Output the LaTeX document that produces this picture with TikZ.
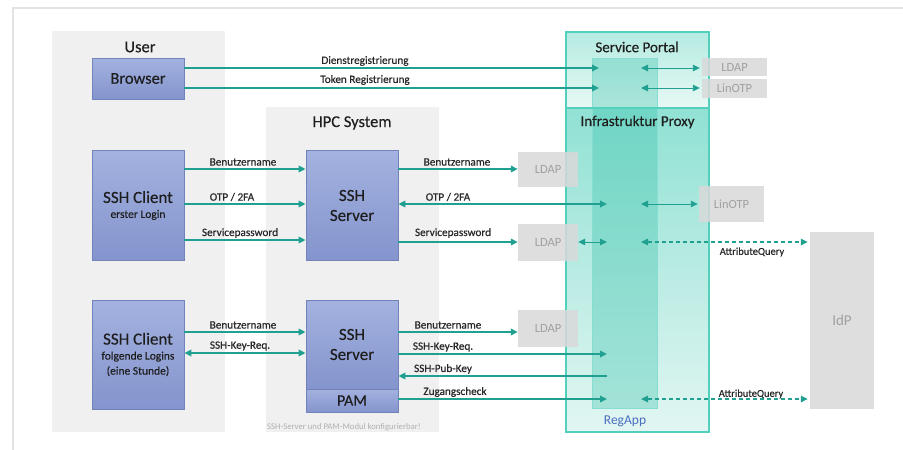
\documentclass[tikz,border=0pt]{standalone}
\usepackage{fontspec}
\setmainfont{Carlito}
\newfontface\heavyface{Carlito}[FakeBold=0.5]
\newfontface\semiface{Carlito}[FakeBold=0.3]
\usetikzlibrary{arrows.meta}

\definecolor{framegray}{HTML}{E3E3E3}
\definecolor{panelgray}{HTML}{F0F0F0}
\definecolor{boxtop}{HTML}{A3B2DF}
\definecolor{boxbot}{HTML}{8494CD}
\definecolor{boxedge}{HTML}{7282BA}
\definecolor{darktext}{HTML}{1E1E1E}
\definecolor{labtext}{HTML}{282828}
\definecolor{flowteal}{HTML}{20A090}
\definecolor{grayfill}{HTML}{D9D9D9}
\definecolor{graytext}{HTML}{A0A0A0}
\definecolor{tealedge}{HTML}{52CFBD}
\definecolor{portaltop}{HTML}{B4EBE1}
\definecolor{portalbot}{HTML}{E8F8F5}
\definecolor{proxytop}{HTML}{90E1D4}
\definecolor{proxybot}{HTML}{E2F6F2}
\definecolor{columnteal}{HTML}{30C0A8}
\definecolor{regblue}{HTML}{4A6FC0}
\definecolor{notegray}{HTML}{B0B0B0}

\newcommand{\fsz}[2]{\fontsize{#1}{#2}\selectfont}

\tikzset{
  panel/.style={fill=panelgray, draw=none},
  ptitle/.style={font=\semiface\fsz{16.5}{19}, text=darktext, inner sep=0pt},
  bluebox/.style={draw=boxedge, line width=0.8pt, top color=boxtop, bottom color=boxbot,
    minimum width=92pt, inner sep=0pt, text=darktext, align=center},
  graybox/.style={fill=grayfill, fill opacity=0.85, text opacity=1, text=graytext,
    inner sep=0pt, font=\fsz{12.5}{15}},
  tip/.tip={Triangle[length=7pt,width=6.5pt]},
  flow/.style={draw=flowteal, line width=1.8pt, -tip},
  flowback/.style={draw=flowteal, line width=1.8pt, tip-},
  both/.style={draw=flowteal, line width=1.8pt, tip-tip},
  thinflow/.style={line width=0.9pt},
  query/.style={dash pattern=on 4pt off 3pt, line width=1.5pt},
  lab/.style={font=\heavyface\fsz{11.2}{13}, text=labtext, inner sep=0pt},
}

\begin{document}
\begin{tikzpicture}[x=1pt,y=-1pt]
\useasboundingbox (0,0) rectangle (903,450);
\fill[white] (0,0) rectangle (903,450);

% outer frame
\draw[framegray, line width=2pt] (13,450) -- (13,8) -- (903,8);

% grey panels
\fill[panel] (52,31) rectangle (225,432);
\fill[panel] (266,107) rectangle (439,432);
\node[ptitle] (usertitle) at (140,47) {User};
\node[ptitle] (hpctitle) at (352,123) {HPC System};
\node[font=\fsz{8.7}{10}, text=notegray, anchor=west, inner sep=0pt] (note) at (267,427)
  {SSH-Server und PAM-Modul konfigurierbar!};

% service portal and infrastructure proxy
\path[top color=portaltop, bottom color=portalbot] (566,32) rectangle (709,108);
\path[top color=proxytop, bottom color=proxybot] (566,108) rectangle (709,432);
\fill[columnteal, fill opacity=0.33] (592,58) rectangle (657,408);
\draw[tealedge!70, line width=0.6pt] (592,58) rectangle (657,408);
\node[draw=tealedge, line width=1.2pt, minimum width=143pt, minimum height=76pt,
  inner sep=0pt] (portal) at (637.5,70) {};
\node[draw=tealedge, line width=1.2pt, minimum width=143pt, minimum height=324pt,
  inner sep=0pt] (proxy) at (637.5,270) {};
\node[font=\semiface\fsz{15}{18}, text=darktext, inner sep=0pt] (portaltitle) at (637,47) {Service Portal};
\node[font=\semiface\fsz{15}{18}, text=darktext, inner sep=0pt] (proxytitle) at (637.5,122) {Infrastruktur Proxy};
\node[font=\fsz{13.5}{16}, text=regblue, inner sep=0pt] (regapp) at (625,421) {RegApp};

% grey back-end boxes
\node[graybox, minimum width=65pt, minimum height=18pt] (ldapP) at (734.5,67) {LDAP};
\node[graybox, minimum width=65pt, minimum height=19pt] (linotpP) at (734.5,88.5) {LinOTP};
\node[graybox, minimum width=60pt, minimum height=35pt] (ldapA) at (548,169.5) {LDAP};
\node[graybox, minimum width=65pt, minimum height=36pt] (linotpB) at (731.5,204) {LinOTP};
\node[graybox, minimum width=60pt, minimum height=37pt] (ldapC) at (548,242.5) {LDAP};
\node[graybox, minimum width=60pt, minimum height=37pt] (ldapD) at (548,328.5) {LDAP};
\node[graybox, minimum width=64pt, minimum height=177pt, font=\fsz{15}{18}] (idp) at (842,320.5) {IdP};

% client and server boxes
\node[bluebox, minimum height=41pt, font=\semiface\fsz{16.5}{19}] (browser) at (138,78.5) {Browser};
\node[bluebox, minimum height=110pt, font=\semiface\fsz{12}{15}] (client1) at (138,205.5)
  {{\fsz{17}{20}SSH Client}\\{\fsz{11.5}{14}erster Login}};
\node[bluebox, minimum height=110pt, font=\semiface\fsz{17}{20}] (server1) at (352,205.5) {SSH\\Server};
\node[bluebox, minimum height=109pt, font=\semiface\fsz{12}{15}] (client2) at (138,354.5)
  {{\fsz{17}{20}SSH Client}\\{\fsz{11.5}{14}folgende Logins}\\{\fsz{11.5}{14}(eine Stunde)}};
\node[bluebox, minimum height=89pt, font=\semiface\fsz{17}{20}] (server2) at (352,344.5) {SSH\\Server};
\node[bluebox, minimum height=23pt, font=\semiface\fsz{16}{19}] (pam) at (352,400.5) {PAM};

% anchor points inside the RegApp column
\coordinate (spIn1) at (599,68);
\coordinate (spIn2) at (599,88);
\coordinate (spOut1) at (641,68);
\coordinate (spOut2) at (641,88);
\coordinate (raOtpIn) at (607,204);
\coordinate (raOtpOut) at (641,204);
\coordinate (raPwIn) at (607,242);
\coordinate (raPwOut) at (641,242);
\coordinate (raKey) at (607,354);
\coordinate (raPub) at (607,376);
\coordinate (raChk) at (607,399);
\coordinate (raChkOut) at (641,399);
% row heights
\coordinate (rowA) at (0,169);
\coordinate (rowB) at (0,204);
\coordinate (rowC) at (0,240);
\coordinate (rowD) at (0,332);
\coordinate (rowE) at (0,353);

% browser registration
\draw[flow] (browser.east |- spIn1) -- (spIn1);
\draw[flow] (browser.east |- spIn2) -- (spIn2);
\node[lab] (l1) at (365,61) {Dienstregistrierung};
\node[lab] (l2) at (365,80) {Token Registrierung};
\draw[both, thinflow, shorten >=2pt] (spOut1) -- (ldapP.west |- spOut1);
\draw[both, thinflow, shorten >=2pt] (spOut2) -- (linotpP.west |- spOut2);

% first login
\draw[flow] (client1.east |- rowA) -- (server1.west |- rowA);
\draw[flow] (client1.east |- rowB) -- (server1.west |- rowB);
\draw[flow] (client1.east |- rowC) -- (server1.west |- rowC);
\node[lab] (l3) at (243,162) {Benutzername};
\node[lab] (l4) at (232,197) {OTP / 2FA};
\node[lab] (l5) at (240,233) {Servicepassword};

\draw[flow] (server1.east |- rowA) -- (ldapA.west |- rowA);
\draw[both] (server1.east |- raOtpIn) -- (raOtpIn);
\draw[flow] (server1.east |- raPwIn) -- (ldapC.west |- raPwIn);
\node[lab] (l6) at (457,162) {Benutzername};
\node[lab] (l7) at (448,197) {OTP / 2FA};
\node[lab] (l8) at (453,233) {Servicepassword};
\draw[both, thinflow] (ldapC.east |- raPwIn) -- (raPwIn);
\draw[both, thinflow, shorten >=1pt] (raOtpOut) -- (linotpB.west |- raOtpOut);
\draw[both, query, shorten >=2pt] (raPwOut) -- (idp.west |- raPwOut);
\node[lab, font=\heavyface\fsz{10.5}{12}] (l9) at (752,252) {AttributeQuery};

% following logins
\draw[flow] (client2.east |- rowD) -- (server2.west |- rowD);
\draw[both] (client2.east |- rowE) -- (server2.west |- rowE);
\node[lab] (l10) at (243,325) {Benutzername};
\node[lab] (l11) at (240,346) {SSH-Key-Req.};

\draw[flow] (server2.east |- rowD) -- (ldapD.west |- rowD);
\draw[flow] (server2.east |- raKey) -- (raKey);
\draw[flowback] (server2.east |- raPub) -- (raPub);
\draw[flow] (pam.east |- raChk) -- (raChk);
\node[lab] (l12) at (448,325) {Benutzername};
\node[lab] (l13) at (443,347) {SSH-Key-Req.};
\node[lab] (l14) at (443,369) {SSH-Pub-Key};
\node[lab] (l15) at (455,392) {Zugangscheck};
\draw[both, query, shorten >=2pt] (raChkOut) -- (idp.west |- raChkOut);
\node[lab, font=\heavyface\fsz{10.5}{12}] (l16) at (751,394) {AttributeQuery};
\end{tikzpicture}
\end{document}
